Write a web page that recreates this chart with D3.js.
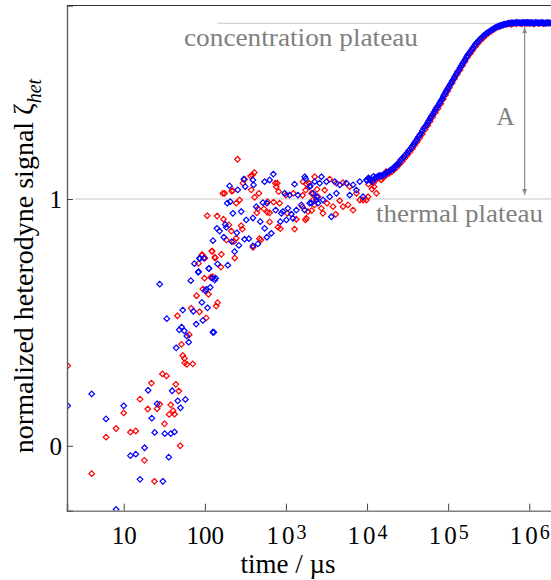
<!DOCTYPE html>
<html>
<head>
<meta charset="utf-8">
<script src="https://cdn.jsdelivr.net/npm/d3@7"></script>
<style>
body { margin: 0; background: #fff; }
text { font-family: "Liberation Serif", "Times New Roman", serif; }
</style>
</head>
<body>
<div id="chart"></div>
<script>
// time in µs, normalized signal
const redEarly = [
  [2.04,0.324],[4.03,-0.113],[6.06,0.035],[8.06,0.07],[10,0.133],[12.1,0.055],[14.1,0.06],[15.9,0.189],
  [18,-0.059],[19.8,0.149],[22,0.254],[23.9,-0.144],[25.8,0.15],[27.8,0.168],[30,0.291],[31.8,0.089],
  [33.7,0.283],[36.3,0.127],[38,0.166],[40.7,0.142],[42.3,0.128],[43.9,0.249],[46,0.527],[47.8,0.222],
  [49.7,0.0],[51.5,0.411],[53.5,0.366],[56.1,0.354],[56.6,0.336],[60,0.33],[64.2,0.45],[67.9,0.557],
  [71.1,0.332],[79,0.608],[83.6,0.739],[86,0.543],[92,0.773],[93,0.774],[94.5,0.635],[99,0.679],
  [99.5,0.76],[100,0.761],[104,0.518],[107,0.932],[111,0.614],[118.6,0.683],[122,0.789],[123,0.788],
  [125.6,0.685],[133,0.764],[134,0.761],[138,0.566],[142,0.931],[143.6,0.58],[158,0.724],[160,0.776],
  [167,1.023],[170,0.918],[175,1.023],[185,0.834],[198,0.895],[212,0.87],[215,1.032],[222,1.034],
  [228,0.827],[234,0.761],[244,0.841],[244,0.983],[253,1.161],[268,0.996],[281,0.892],[290,0.878],
  [295,1.064],[309,1.08],[367,1.093],[374,1.037],[385,1.097],[392,0.804],[407,1.107],[411,1.007],
  [438,0.944],[451,0.96],[464,1.023],[473,0.839],[491,0.834],[535,0.96],[589,0.946],[594,0.989],
  [630,0.944],[630,0.907],[705,0.987],[740,1.064],[761,1.05],[783,1.064],[797,0.886],[812,1.03],
  [836,0.983],[853,0.88],[1000,1.016],[1040,0.942],[1233,1.023],[1280,0.878],[1343,0.918],[1607,1.015],
  [1622,1.07],[1592,0.969],[1738,0.915],[1750,1.036],[1786,1.061],[1786,0.922],[1871,0.949],[1923,1.064],
  [2061,1.023],[2076,0.953],[2153,0.996],[2243,0.976],[2259,1.09],[2415,1.039],[2485,1.009],[2735,0.962],
  [2862,0.942],[3006,1.036],[3208,0.983],[3467,1.08],[3802,0.969],[4108,0.938],[4188,1.064],[4600,0.993],
  [5058,1.066],[5058,0.969],[5823,0.976],[6113,1.05],[6714,0.955],[7396,1.023],[8128,0.996],[8930,0.996],
  [9800,0.996],[10280,1.009],[11500,1.04],[12200,1.05],[13060,1.023],[15800,1.086],[17200,1.111]
];

const redRise = [
  [10400,1.06],[11200,1.072],[12000,1.065],[13000,1.08],[14000,1.085],[15000,1.078],[16200,1.092],[17400,1.098],
  [18800,1.104],[20200,1.11],[21700,1.12],[23200,1.128],[25000,1.14],[27000,1.152],[29000,1.165],[31200,1.177],
  [33700,1.19],[36200,1.204],[38700,1.218],[41500,1.232],[44500,1.247],[48000,1.263],[52000,1.282],[56000,1.298],
  [60000,1.315],[64500,1.332],[69500,1.35],[75000,1.367],[81000,1.386],[87000,1.405],[93000,1.422],[99000,1.438],
  [104000,1.452],[112000,1.47],[120000,1.488],[130000,1.506],[140000,1.523],[150000,1.54],[162000,1.558],[174000,1.575],
  [188000,1.59],[202000,1.604],[217000,1.618],[232000,1.63],[250000,1.642],[270000,1.652],[290000,1.662],[312000,1.671],
  [337000,1.679],[362000,1.686],[387000,1.692],[415000,1.697],[445000,1.701],[480000,1.705],[520000,1.708],[560000,1.71],
  [600000,1.708],[645000,1.712],[695000,1.71],[750000,1.713],[810000,1.71],[870000,1.713],[930000,1.711],[990000,1.713],
  [1040000,1.712],[1120000,1.71],[1200000,1.713],[1300000,1.711],[1400000,1.713],[1500000,1.71],[1620000,1.712],[1740000,1.713],[1880000,1.711]
];

const blueEarly = [
  [2.04,0.162],[4.03,0.21],[6.06,0.109],[8.06,-0.258],[10,0.162],[12.1,-0.04],[14.1,-0.034],[15.9,-0.136],
  [18.1,-0.008],[20,0.225],[22.2,0.112],[24.1,0.054],[25.8,0.17],[27.8,0.655],[30.4,-0.144],[32.1,0.049],
  [34,0.515],[35.9,-0.046],[38.1,0.049],[39.6,0.223],[42.3,0.056],[44.4,0.397],[46.4,0.182],[48.4,0.47],
  [50.1,0.154],[51.7,0.481],[53.5,0.55],[55.8,0.466],[57.7,0.188],[60,0.445],[63.3,0.42],[67.2,0.669],
  [72.2,0.545],[74.4,0.738],[78.3,0.493],[83,0.703],[83.6,0.706],[86,0.76],[86.7,0.758],[92,0.581],
  [94.5,0.508],[97.2,0.76],[101,0.628],[104,0.634],[107.9,0.559],[112,0.719],[112.5,0.718],[116.6,0.642],
  [123,0.679],[125.6,0.46],[126,0.831],[129,0.46],[132.6,0.672],[136,0.679],[141,0.881],[143.6,0.737],
  [152,0.87],[172,0.845],[179,0.897],[184,0.885],[189,0.983],[192,0.732],[202,1.053],[206,0.989],
  [215,0.827],[222,0.942],[233,0.787],[248,0.863],[255,1.037],[263,0.812],[281,0.949],[303,1.08],
  [309,0.837],[315,1.05],[324,0.915],[349,0.839],[392,1.077],[392,0.923],[392,0.81],[399,1.057],
  [431,0.969],[451,0.818],[483,0.908],[520,0.985],[546,1.07],[546,0.881],[582,0.983],[582,0.845],
  [630,1.077],[660,0.861],[699,1.101],[746,0.955],[853,0.908],[877,0.942],[918,0.949],[964,1.023],
  [1012,0.915],[1059,0.962],[1111,1.016],[1166,0.939],[1219,0.922],[1280,1.06],[1343,0.955],[1406,1.016],
  [1549,0.976],[1702,1.09],[1702,0.955],[1750,1.082],[1963,1.05],[1963,0.983],[2000,1.053],[2061,0.983],
  [2153,1.023],[2259,1.07],[2372,0.996],[2400,1.009],[2485,0.983],[2606,1.064],[2735,1.09],[2862,0.996],
  [3155,1.07],[3467,1.009],[3631,0.928],[3990,1.07],[4188,1.023],[4600,1.057],[5559,1.064],[6113,1.016],
  [6714,1.057],[7396,1.036],[8128,1.07],[8930,1.009],[9840,1.077]
];

const blueRise = [
  [10000,1.075],[10800,1.08],[11600,1.07],[12500,1.085],[13500,1.09],[14500,1.095],[15600,1.097],[16800,1.1],
  [18000,1.108],[19500,1.118],[21000,1.12],[22500,1.135],[24000,1.14],[26000,1.158],[28000,1.168],[30000,1.18],
  [32500,1.195],[35000,1.207],[37500,1.222],[40000,1.235],[43000,1.252],[46000,1.265],[50000,1.287],[54000,1.3],
  [58000,1.318],[62000,1.335],[67000,1.352],[72000,1.37],[78000,1.388],[84000,1.405],[90000,1.424],[96000,1.44],
  [100000,1.45],[108000,1.468],[116000,1.485],[125000,1.505],[135000,1.522],[145000,1.54],[156000,1.556],[168000,1.575],
  [180000,1.59],[195000,1.605],[210000,1.62],[225000,1.633],[240000,1.643],[260000,1.654],[280000,1.664],[300000,1.672],
  [325000,1.679],[350000,1.686],[375000,1.692],[400000,1.697],[430000,1.701],[460000,1.704],[500000,1.708],[540000,1.71],
  [580000,1.712],[620000,1.713],[670000,1.714],[720000,1.715],[780000,1.713],[840000,1.716],[900000,1.714],[960000,1.715],
  [1000000,1.713],[1080000,1.715],[1160000,1.712],[1250000,1.714],[1350000,1.713],[1450000,1.715],[1560000,1.712],[1680000,1.714],[1800000,1.713],[1950000,1.714]
];

const blueRiseB = [
  [10400,1.085],[11200,1.078],[12000,1.092],[13000,1.088],[14000,1.095],[15000,1.093],[16200,1.1],[17400,1.107],
  [18800,1.112],[20200,1.12],[21700,1.13],[23200,1.137],[25000,1.15],[27000,1.162],[29000,1.175],[31200,1.186],
  [33700,1.2],[36200,1.214],[38700,1.228],[41500,1.243],[44500,1.258],[48000,1.276],[52000,1.293],[56000,1.31],
  [60000,1.327],[64500,1.343],[69500,1.362],[75000,1.378],[81000,1.397],[87000,1.416],[93000,1.433],[99000,1.448],
  [104000,1.46],[112000,1.478],[120000,1.495],[130000,1.515],[140000,1.532],[150000,1.548],[162000,1.566],[174000,1.583],
  [188000,1.598],[202000,1.613],[217000,1.627],[232000,1.638],[250000,1.65],[270000,1.66],[290000,1.669],[312000,1.676],
  [337000,1.684],[362000,1.69],[387000,1.695],[415000,1.7],[445000,1.703],[480000,1.707],[520000,1.709],[560000,1.712],
  [600000,1.714],[645000,1.713],[695000,1.716],[750000,1.714],[810000,1.715],[870000,1.713],[930000,1.716],[990000,1.714],
  [1040000,1.715],[1120000,1.713],[1200000,1.716],[1300000,1.714],[1400000,1.715],[1500000,1.713],[1620000,1.715],[1740000,1.714],[1880000,1.715]
];

const xTicks = [10, 100, 1e3, 1e4, 1e5, 1e6];
const yTicks = [0, 1];
const thermalPlateau = 1;
const concPlateau = 1.712;
const plateauStart = {thermal: 2.53, conc: 143.5};
const arrowTime = 8.77e5;

const margin = {top: 5.5, left: 67},
    width = 486.7,
    height = 505.2;

const x = d3.scaleLog().domain([2, 2e6]).range([0, width]);
const y = d3.scaleLinear().domain([-0.263, 1.784]).range([height, 0]);

const svg = d3.select("#chart").append("svg")
    .attr("width", 551)
    .attr("height", 580);

const defs = svg.append("defs");
defs.append("clipPath").attr("id", "clip")
    .append("rect").attr("x", 0).attr("y", 0).attr("width", width).attr("height", height);
defs.append("marker")
    .attr("id", "head")
    .attr("viewBox", "0 0 10 10")
    .attr("refX", 10).attr("refY", 5)
    .attr("markerWidth", 6).attr("markerHeight", 6)
    .attr("markerUnits", "userSpaceOnUse")
    .attr("orient", "auto-start-reverse")
    .append("path").attr("d", "M0,1 L10,5 L0,9 Z").attr("fill", "#8a8a8a");

const g = svg.append("g")
    .attr("transform", "translate(" + margin.left + "," + margin.top + ")");

// plateau lines
g.append("line")
    .attr("x1", x(plateauStart.thermal)).attr("x2", width)
    .attr("y1", y(thermalPlateau)).attr("y2", y(thermalPlateau))
    .attr("stroke", "#c8c8c8").attr("stroke-width", 1);
g.append("line")
    .attr("x1", x(plateauStart.conc)).attr("x2", width)
    .attr("y1", y(concPlateau)).attr("y2", y(concPlateau))
    .attr("stroke", "#c8c8c8").attr("stroke-width", 1);

const diamond = "M0,-2.8L2.8,0L0,2.8L-2.8,0Z";
const pts = g.append("g").attr("clip-path", "url(#clip)");

function drawSeries(data, color) {
    pts.append("g").selectAll("path")
        .data(data)
        .enter().append("path")
        .attr("d", diamond)
        .attr("transform", d => "translate(" + x(d[0]) + "," + y(d[1]) + ")")
        .attr("fill", "none")
        .attr("stroke", color)
        .attr("stroke-width", 1.2);
}
drawSeries(redEarly, "#ff0000");
drawSeries(redRise, "#ff0000");
drawSeries(blueEarly, "#0000ff");
drawSeries(blueRise, "#0000ff");
drawSeries(blueRiseB, "#0000ff");

// arrow for A
g.append("line")
    .attr("x1", x(arrowTime)).attr("x2", x(arrowTime))
    .attr("y1", y(concPlateau) + 4).attr("y2", y(thermalPlateau) - 4)
    .attr("stroke", "#8a8a8a").attr("stroke-width", 1.2)
    .attr("marker-start", "url(#head)")
    .attr("marker-end", "url(#head)");

// annotation text
const annot = g.append("g").attr("fill", "#808080").attr("font-size", "26px");
annot.append("text").attr("x", 117).attr("y", 40.5)
    .attr("textLength", 234).attr("lengthAdjust", "spacingAndGlyphs")
    .text("concentration plateau");
annot.append("text").attr("x", 309).attr("y", 216.2)
    .attr("textLength", 167).attr("lengthAdjust", "spacingAndGlyphs")
    .text("thermal plateau");
annot.append("text").attr("x", 447.5).attr("y", 119.5).attr("text-anchor", "end")
    .attr("font-size", "25px").text("A");

// axes
const xAxis = g.append("g")
    .attr("transform", "translate(0," + height + ")")
    .call(d3.axisBottom(x).tickValues(xTicks).tickSize(-7).tickFormat(""));
xAxis.select(".domain").attr("stroke", "#808080").attr("stroke-width", 1.6);
xAxis.selectAll(".tick line").attr("stroke", "#444");

xAxis.selectAll(".tick").append("text")
    .attr("fill", "#000")
    .attr("y", 33)
    .attr("font-size", "25px")
    .attr("text-anchor", "middle")
    .each(function (d) {
        const t = d3.select(this);
        const p = Math.round(Math.log10(d));
        if (p <= 2) {
            t.text(d);
        } else {
            t.append("tspan").text("1");
            t.append("tspan").attr("dx", 3).text("0");
            t.append("tspan").attr("dx", 2).attr("dy", -5).attr("font-size", "20px").text(p);
        }
    });

const yAxis = g.append("g")
    .call(d3.axisLeft(y).tickValues(yTicks).tickSize(-6).tickFormat(""));
yAxis.select(".domain").attr("stroke", "#606060").attr("stroke-width", 1.4);
yAxis.selectAll(".tick line").attr("stroke", "#444");
yAxis.selectAll(".tick").append("text")
    .attr("fill", "#000")
    .attr("x", -5)
    .attr("dy", "0.34em")
    .attr("font-size", "25px")
    .attr("text-anchor", "end")
    .text(d => d);

// top frame
g.append("line")
    .attr("x1", 0).attr("x2", width)
    .attr("y1", 0).attr("y2", 0)
    .attr("stroke", "#333").attr("stroke-width", 1.2);

// axis titles
svg.append("text")
    .attr("x", 288).attr("y", 573)
    .attr("text-anchor", "middle")
    .attr("font-size", "27px")
    .text("time / \u00b5s");

const yl = svg.append("text")
    .attr("transform", "translate(33,266) rotate(-90)")
    .attr("text-anchor", "middle")
    .attr("font-size", "28px");
yl.append("tspan").text("normalized heterodyne signal \u03b6");
yl.append("tspan").attr("dy", 8).attr("font-size", "20px").attr("font-style", "italic").text("het");
</script>
</body>
</html>
